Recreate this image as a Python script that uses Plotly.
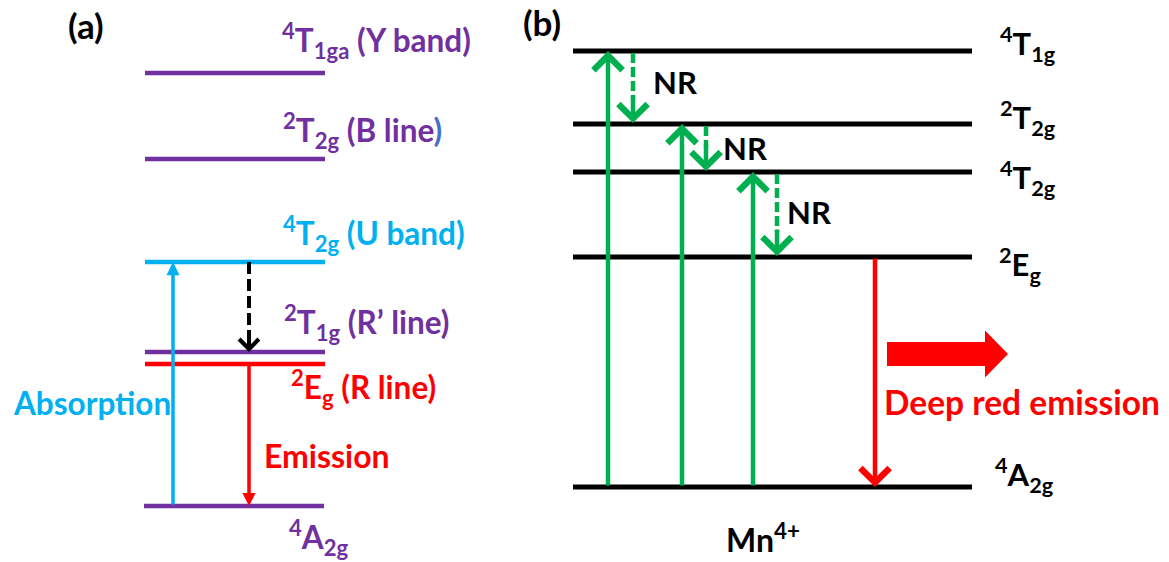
import plotly.graph_objects as go

# ---------------- DATA (schematic energies, arbitrary units) ----------------
# Panel (a)
a_levels = ["4T1ga", "2T2g", "4T2g", "2T1g", "2Eg", "4A2g"]
a_energy = [489, 403, 300, 210, 198, 56]
a_labels = [
    "<sup>4</sup>T<sub>1ga</sub> (Y band)",
    "<sup>2</sup>T<sub>2g</sub> (B line<span style='color:#4472C4'>)</span>",
    "<sup>4</sup>T<sub>2g</sub> (U band)",
    "<sup>2</sup>T<sub>1g</sub> (R\u2019 line)",
    "<sup>2</sup>E<sub>g</sub> (R line)",
    "<sup>4</sup>A<sub>2g</sub>",
]
# transitions (from level, to level)
a_absorption = ("4A2g", "4T2g")
a_nonrad = ("4T2g", "2T1g")
a_emission = ("2Eg", "4A2g")

# Panel (b)
b_levels = ["4T1g", "2T2g", "4T2g", "2Eg", "4A2g"]
b_energy = [511, 438, 390, 305, 75]
b_labels = [
    "<sup>4</sup>T<sub>1g</sub>",
    "<sup>2</sup>T<sub>2g</sub>",
    "<sup>4</sup>T<sub>2g</sub>",
    "<sup>2</sup>E<sub>g</sub>",
    "<sup>4</sup>A<sub>2g</sub>",
]
b_absorption = [("4A2g", "4T1g"), ("4A2g", "2T2g"), ("4A2g", "4T2g")]
b_nonrad = [("4T1g", "2T2g"), ("2T2g", "4T2g"), ("4T2g", "2Eg")]
b_emission = ("2Eg", "4A2g")

# ---------------- LAYOUT / STYLE ----------------
W, H = 1169, 562
FONT = "Lato"
PURPLE, CYAN, RED, GREEN, BLACK = "#7030A0", "#00B0F0", "#FF0000", "#00B050", "#000000"

a_colors = [PURPLE, PURPLE, CYAN, PURPLE, RED, PURPLE]
a_x0, a_x1 = 145, 325
a_label_x = [280, 281, 281, 282, 289, 287]
a_label_dy = [33, 29, 29, 30, -23, -31]
a_label_colors = [PURPLE, PURPLE, CYAN, PURPLE, RED, PURPLE]
a_abs_x, a_nr_x, a_em_x = 173, 249, 249

b_x0, b_x1 = 573, 972
b_label_x = [998, 998, 998, 997, 993]
b_label_dy = [7, 6, -6, -8, 12]
b_abs_x = [608, 682, 753]
b_nr_x = [633, 706, 777]
b_nr_label_pos = [(651, 480), (721, 414), (785, 350)]
b_em_x = 875

Ea = dict(zip(a_levels, a_energy))
Eb = dict(zip(b_levels, b_energy))

fig = go.Figure()
annotations = []


def level(x0, x1, e, color, width):
    fig.add_trace(go.Scatter(x=[x0, x1], y=[e, e], mode="lines",
                             line=dict(color=color, width=width),
                             hoverinfo="skip", showlegend=False))


def arrow(x, y_from, y_to, color, width, head, size):
    annotations.append(dict(x=x, y=y_to, ax=x, ay=y_from, xref="x", yref="y",
                            axref="x", ayref="y", text="", showarrow=True,
                            arrowhead=head, arrowsize=size, arrowwidth=width,
                            arrowcolor=color, standoff=0, startstandoff=0))


def dashed_arrow(x, y_from, y_to, color, width, head, size, dash, head_len):
    sign = -1 if y_to < y_from else 1
    fig.add_trace(go.Scatter(x=[x, x], y=[y_from, y_to - sign * (head_len - 4)], mode="lines",
                             line=dict(color=color, width=width, dash=dash),
                             hoverinfo="skip", showlegend=False))
    arrow(x, y_to - sign * head_len, y_to, color, width, head, size)


def text(x, y, s, color, size, xanchor="left", yanchor="middle"):
    annotations.append(dict(x=x, y=y, xref="x", yref="y", text=s, showarrow=False,
                            xanchor=xanchor, yanchor=yanchor,
                            font=dict(family=FONT, size=size, color=color)))


# ---- panel (a) ----
for name, e, c in zip(a_levels, a_energy, a_colors):
    shift = 1 if name == "4A2g" else 0
    level(a_x0 - shift, a_x1 - shift, e, c, 4.5)

arrow(a_abs_x, Ea[a_absorption[0]], Ea[a_absorption[1]], CYAN, 3.5, 2, 0.75)
dashed_arrow(a_nr_x, Ea[a_nonrad[0]], Ea[a_nonrad[1]], BLACK, 4, 4, 0.95, "12px,5px", 20)
arrow(a_em_x, Ea[a_emission[0]], Ea[a_emission[1]], RED, 3.5, 2, 0.75)

for s, x, e, dy, c in zip(a_labels, a_label_x, a_energy, a_label_dy, a_label_colors):
    text(x, e + dy, "<b>" + s + "</b>", c, 31.5)

text(11, 159, "<b>Absorption</b>", CYAN, 31.5)
text(262, 107, "<b>Emission</b>", RED, 32)
text(66, 537, "<b>(a)</b>", BLACK, 35)

# ---- panel (b) ----
for name, e in zip(b_levels, b_energy):
    level(b_x0, b_x1, e, BLACK, 5)

for (lo, hi), x in zip(b_absorption, b_abs_x):
    arrow(x, Eb[lo], Eb[hi], GREEN, 4.5, 4, 1.25)
for (hi, lo), x in zip(b_nonrad, b_nr_x):
    dashed_arrow(x, Eb[hi] - 2, Eb[lo] + 1, GREEN, 4.5, 4, 1.25, "10px,4px", 28)
for (px, py) in b_nr_label_pos:
    text(px, py, "<b>NR</b>", BLACK, 31)
arrow(b_em_x, Eb[b_emission[0]], Eb[b_emission[1]], RED, 4.5, 4, 1.25)

for s, x, e, dy in zip(b_labels, b_label_x, b_energy, b_label_dy):
    text(x, e + dy, "<b>" + s + "</b>", BLACK, 31)

# block arrow (deep red emission)
bx0, bx_head, bx_tip, by = 887, 985, 1008, 208
shaft_h, head_h = 12, 23.5
fig.add_trace(go.Scatter(
    x=[bx0, bx_head, bx_head, bx_tip, bx_head, bx_head, bx0, bx0],
    y=[by + shaft_h, by + shaft_h, by + head_h, by, by - head_h, by - shaft_h, by - shaft_h, by + shaft_h],
    mode="lines", fill="toself", fillcolor=RED, line=dict(color=RED, width=0),
    hoverinfo="skip", showlegend=False))

text(882, 160, "<b>Deep red emission</b>", RED, 33.5)
text(763, 24, "<b>Mn<sup>4+</sup></b>", BLACK, 32, xanchor="center")
text(521, 540, "<b>(b)</b>", BLACK, 35)

fig.update_layout(
    width=W, height=H, margin=dict(l=0, r=0, t=0, b=0),
    paper_bgcolor="white", plot_bgcolor="white",
    xaxis=dict(range=[0, W], visible=False, fixedrange=True),
    yaxis=dict(range=[0, H], visible=False, fixedrange=True),
    annotations=annotations, showlegend=False,
    font=dict(family=FONT),
)

fig.write_html("out.html")
